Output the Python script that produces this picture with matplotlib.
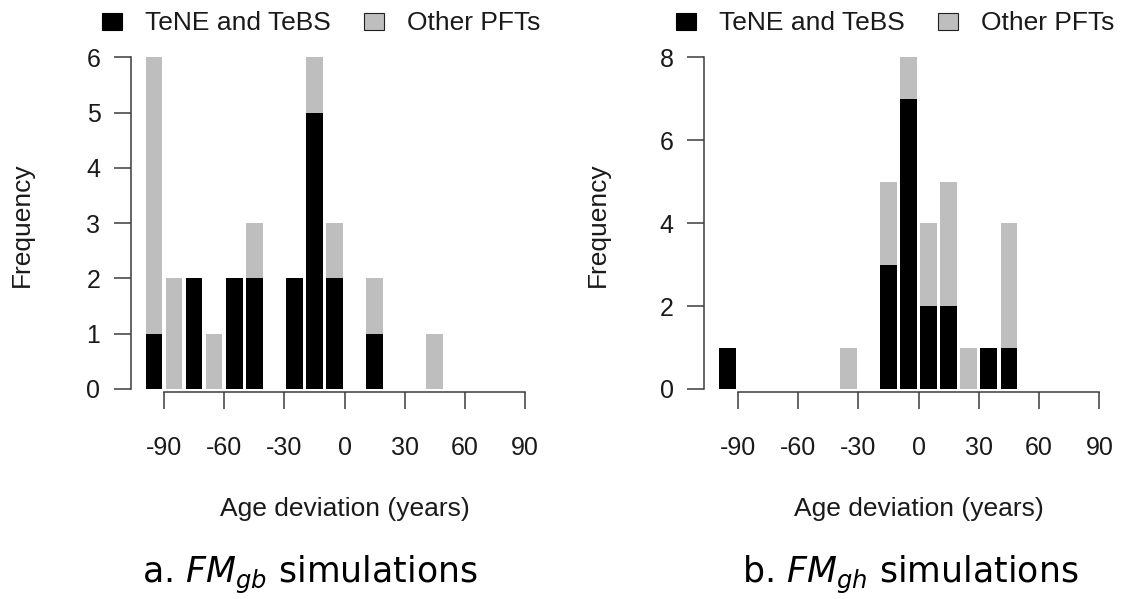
import matplotlib
matplotlib.use("Agg")
import matplotlib.pyplot as plt
from matplotlib.patches import Patch
from matplotlib.transforms import blended_transform_factory

# Histogram bins (10-year classes) and stacked counts per group
bin_centers = [-95, -85, -75, -65, -55, -45, -35, -25, -15, -5, 5, 15, 25, 35, 45]
gb_tene = [1, 0, 2, 0, 2, 2, 0, 2, 5, 2, 0, 1, 0, 0, 0]
gb_other = [5, 2, 0, 1, 0, 1, 0, 0, 1, 1, 0, 1, 0, 0, 1]
gh_tene = [1, 0, 0, 0, 0, 0, 0, 0, 3, 7, 2, 2, 0, 1, 1]
gh_other = [0, 0, 0, 0, 0, 0, 1, 0, 2, 1, 2, 3, 1, 0, 3]

x_ticks = [-90, -60, -30, 0, 30, 60, 90]
x_ticklabels = ["-90", "-60", "-30", "0", "30", "60", "90"]
gb_yticks = [0, 1, 2, 3, 4, 5, 6]
gh_yticks = [0, 2, 4, 6, 8]
legend_labels = ["TeNE and TeBS", "Other PFTs"]
x_label = "Age deviation (years)"
y_label = "Frequency"
panel_titles = [r"a. $\mathit{FM}_{gb}$ simulations", r"b. $\mathit{FM}_{gh}$ simulations"]

plt.rcParams["font.family"] = ["Liberation Sans", "DejaVu Sans"]
plt.rcParams["mathtext.fontset"] = "dejavusans"

W, H = 1122, 599
fig = plt.figure(figsize=(W / 100, H / 100), dpi=100)

BLACK = "#000000"
GREY = "#bebebe"
AXCOL = "#3c3c3c"
TXT = "#1a1a1a"
FS = 18
FS_LAB = 19


def px_rect(left, right, top, bottom):
    return [left / W, 1 - bottom / H, (right - left) / W, (bottom - top) / H]


def panel(rect, xlim, ymax, yticks, tene, other, leg_x, ylab_x, xlab_x, title_x, title):
    ax = fig.add_axes(rect)
    ax.set_xlim(*xlim)
    ax.set_ylim(0, ymax)
    width = 10 / 1.2
    ax.bar(bin_centers, tene, width=width, color=BLACK, linewidth=0, clip_on=False)
    ax.bar(bin_centers, other, width=width, bottom=tene, color=GREY, linewidth=0,
           clip_on=False)

    for s in ("top", "right"):
        ax.spines[s].set_visible(False)
    ax.spines["left"].set_bounds(0, ymax)
    ax.spines["bottom"].set_bounds(-90, 90)
    ax.spines["bottom"].set_position(("outward", 2.2))
    for s in ("left", "bottom"):
        ax.spines[s].set_color(AXCOL)
        ax.spines[s].set_linewidth(1.1)

    ax.set_xticks(x_ticks)
    ax.set_xticklabels(x_ticklabels)
    ax.set_yticks(yticks)
    ax.set_yticklabels([str(v) for v in yticks])
    ax.tick_params(axis="x", length=12, width=1.1, color=AXCOL, pad=20,
                   labelsize=FS, labelcolor=TXT)
    ax.tick_params(axis="y", length=12.5, width=1.1, color=AXCOL, pad=9.5,
                   labelsize=FS, labelcolor=TXT)

    handles = [Patch(facecolor=BLACK, edgecolor=BLACK, linewidth=0.8),
               Patch(facecolor=GREY, edgecolor="#202020", linewidth=0.8)]
    ax.legend(handles, legend_labels, ncol=2, frameon=False, fontsize=FS_LAB,
              loc="center left", bbox_to_anchor=(leg_x / W, 1 - 23.5 / H),
              bbox_transform=fig.transFigure, borderpad=0, borderaxespad=0,
              handlelength=0.76, handleheight=0.64, handletextpad=0.87,
              columnspacing=1.25, labelcolor=TXT)

    fig.text(ylab_x / W, 1 - 225 / H, y_label, rotation=90, ha="center",
             va="center", fontsize=FS_LAB, color=TXT)
    trans = blended_transform_factory(ax.transData, fig.transFigure)
    ax.text(xlab_x, 1 - 509 / H, x_label, transform=trans, ha="center",
            va="center", fontsize=FS_LAB, color=TXT)
    fig.text(title_x / W, 1 - 583 / H, title, ha="center", va="baseline",
             fontsize=25, color="black", family="DejaVu Sans")
    return ax


panel(px_rect(131, 535, 57.3, 389), (-106.4, 94.9), 6, gb_yticks, gb_tene, gb_other,
      102, 22, 0, 310, panel_titles[0])
panel(px_rect(704.3, 1110, 57.3, 389), (-106.6, 95.3), 8, gh_yticks, gh_tene, gh_other,
      676, 598, 0, 910, panel_titles[1])

fig.savefig("out.png", dpi=100, facecolor="white")
